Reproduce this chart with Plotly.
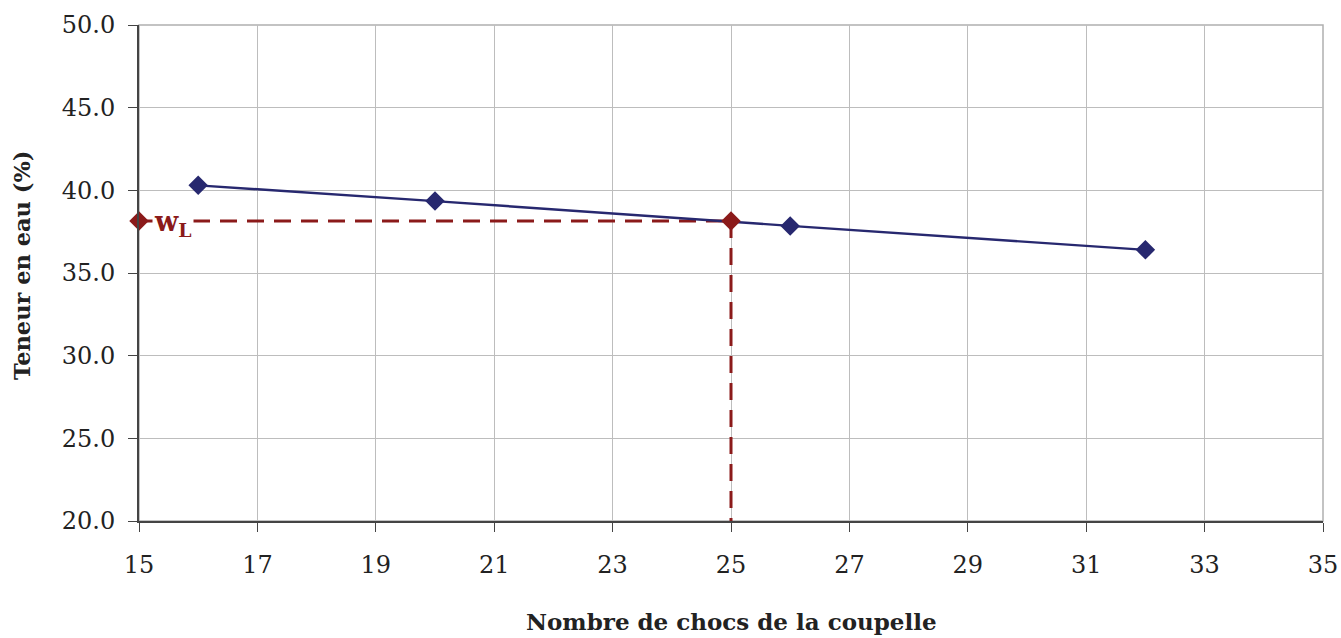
import plotly.graph_objects as go

# Data
chocs = [16, 20, 26, 32]
teneur = [40.3, 39.35, 37.85, 36.4]
wl_x = [15, 25]
wl_y = [38.15, 38.15]
x_ticks = [15, 17, 19, 21, 23, 25, 27, 29, 31, 33, 35]
y_ticks = [20, 25, 30, 35, 40, 45, 50]

FONT = "DejaVu Serif"
BLUE = "#27286f"
RED = "#8b1a1a"
DASH = "17px,10px"

fig = go.Figure()

# Dashed guide lines
fig.add_trace(go.Scatter(x=[wl_x[0], wl_x[1]], y=[wl_y[0], wl_y[1]], mode="lines",
                         line=dict(color=RED, width=3, dash=DASH),
                         showlegend=False, hoverinfo="skip"))
fig.add_trace(go.Scatter(x=[wl_x[1], wl_x[1]], y=[wl_y[1], y_ticks[0]], mode="lines",
                         line=dict(color=RED, width=3, dash=DASH),
                         showlegend=False, hoverinfo="skip", cliponaxis=False))

# Main series
fig.add_trace(go.Scatter(x=chocs, y=teneur, mode="lines+markers",
                         line=dict(color=BLUE, width=2.4),
                         marker=dict(symbol="diamond", size=15, color=BLUE),
                         showlegend=False))

# WL points
fig.add_trace(go.Scatter(x=wl_x, y=wl_y, mode="markers",
                         marker=dict(symbol="diamond", size=15, color=RED),
                         showlegend=False, cliponaxis=False))

fig.add_annotation(x=wl_x[0], y=wl_y[0], xref="x", yref="y",
                   text="<b>w<sub>L</sub></b>", showarrow=False,
                   xanchor="left", xshift=13, yshift=-3,
                   bgcolor="white", borderpad=1,
                   font=dict(family=FONT, size=27, color=RED))

# Axis titles
fig.add_annotation(x=0.5, y=0, xref="paper", yref="paper",
                   text="<b>Nombre de chocs de la coupelle</b>", showarrow=False,
                   xanchor="center", yanchor="bottom", yshift=-116,
                   font=dict(family=FONT, size=23, color="#222222"))
fig.add_annotation(x=0, y=0.5, xref="paper", yref="paper",
                   text="<b>Teneur en eau (%)</b>", showarrow=False, textangle=-90,
                   xanchor="center", yanchor="middle", xshift=-117, yshift=7,
                   font=dict(family=FONT, size=22.5, color="#222222"))

fig.update_layout(
    width=1341, height=638,
    margin=dict(l=139, r=18, t=25, b=117, autoexpand=False),
    paper_bgcolor="white", plot_bgcolor="white",
    font=dict(family=FONT, size=24, color="#222222"),
    xaxis=dict(range=[15, 35], tickvals=x_ticks, ticktext=[str(v) for v in x_ticks],
               showgrid=True, gridcolor="#bdbdbd", gridwidth=1,
               showline=True, linecolor="#444444", linewidth=2,
               ticks="outside", ticklen=9, tickcolor="#444444",
               ticklabelstandoff=12, automargin=False,
               zeroline=False, mirror=False),
    yaxis=dict(range=[20, 50], tickvals=y_ticks, ticktext=[f"{v:.1f}" for v in y_ticks],
               showgrid=True, gridcolor="#bdbdbd", gridwidth=1,
               showline=True, linecolor="#444444", linewidth=2,
               ticks="outside", ticklen=9, tickcolor="#444444",
               ticklabelstandoff=8, automargin=False,
               zeroline=False),
)

fig.add_shape(type="rect", xref="paper", yref="paper", x0=0, y0=0, x1=1, y1=1,
              line=dict(color="#b0b0b0", width=1.5), layer="below")

fig.write_html("out.html", config={"displayModeBar": False},
               post_script="document.body.style.margin='0';document.body.style.overflow='hidden';")
